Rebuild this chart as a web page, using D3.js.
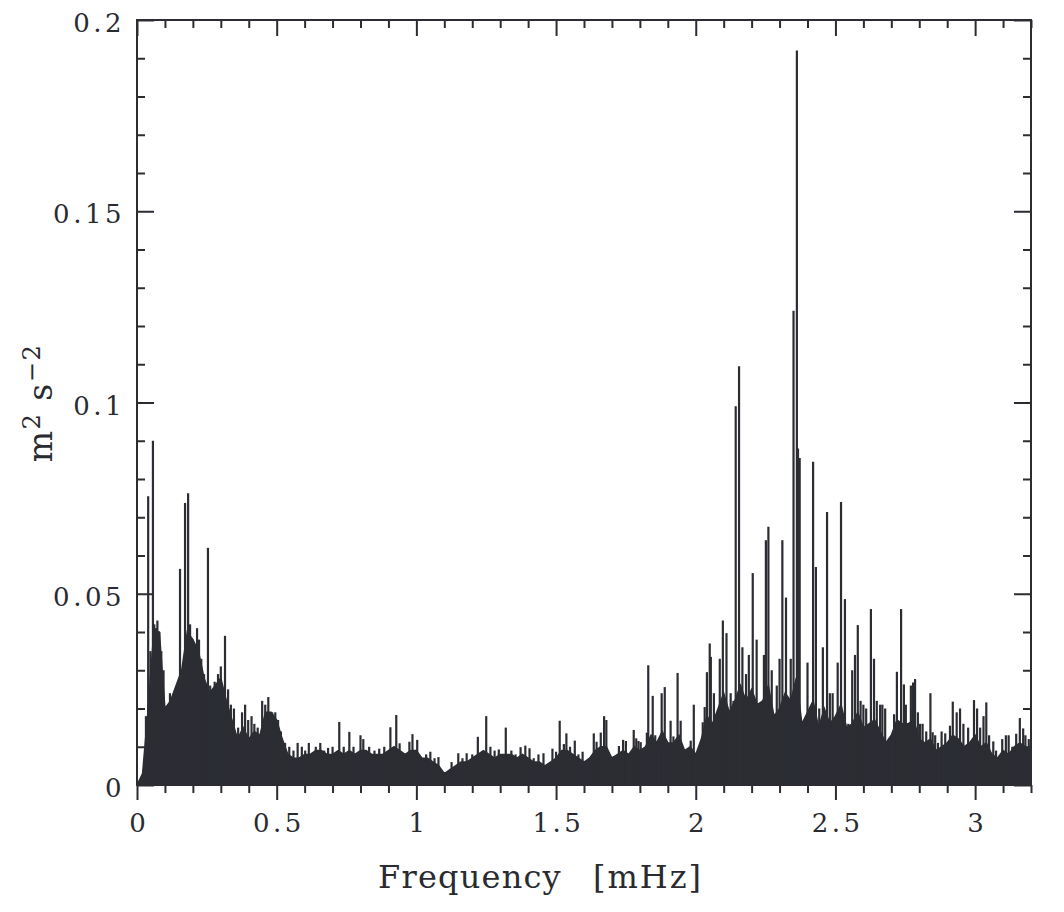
<!DOCTYPE html>
<html>
<head>
<meta charset="utf-8">
<script src="https://cdn.jsdelivr.net/npm/d3@7"></script>
<style>
  html, body { margin: 0; padding: 0; background: #fff; }
  svg { display: block; }
  text { font-family: "DejaVu Serif", serif; fill: #2a2b30; }
</style>
</head>
<body>
<svg id="chart" width="1064" height="912"></svg>
<script>
// ---- data ----
// upper edge of the dense, solid part of the spectrum, sampled every 0.02 mHz from 0 to 3.2 mHz
const bandStep = 0.02;
const bandTop = [
  0, 0.003, 0.020, 0.040, 0.040, 0.020, 0.022, 0.026, 0.030, 0.040,
  0.038, 0.035, 0.028, 0.024, 0.026, 0.028, 0.022, 0.017, 0.012, 0.015,
  0.012, 0.014, 0.013, 0.019, 0.019, 0.017, 0.012, 0.008, 0.007, 0.007,
  0.008, 0.008, 0.009, 0.009, 0.008, 0.008, 0.009, 0.008, 0.009, 0.008,
  0.009, 0.009, 0.008, 0.008, 0.008, 0.009, 0.010, 0.009, 0.008, 0.009,
  0.009, 0.007, 0.007, 0.006, 0.005, 0.003, 0.004, 0.005, 0.006, 0.006,
  0.007, 0.008, 0.009, 0.008, 0.007, 0.008, 0.008, 0.008, 0.007, 0.008,
  0.007, 0.006, 0.006, 0.005, 0.006, 0.007, 0.009, 0.009, 0.008, 0.007,
  0.006, 0.007, 0.009, 0.010, 0.010, 0.007, 0.008, 0.009, 0.008, 0.010,
  0.009, 0.010, 0.013, 0.011, 0.014, 0.011, 0.011, 0.013, 0.009, 0.010,
  0.008, 0.012, 0.018, 0.016, 0.020, 0.024, 0.019, 0.022, 0.026, 0.022,
  0.025, 0.021, 0.022, 0.026, 0.018, 0.020, 0.024, 0.022, 0.028, 0.016,
  0.019, 0.022, 0.015, 0.020, 0.016, 0.018, 0.021, 0.015, 0.016, 0.019,
  0.015, 0.016, 0.017, 0.014, 0.011, 0.013, 0.017, 0.016, 0.016, 0.017,
  0.012, 0.011, 0.012, 0.009, 0.010, 0.011, 0.013, 0.012, 0.010, 0.011,
  0.013, 0.010, 0.011, 0.008, 0.007, 0.009, 0.008, 0.010, 0.011, 0.010,
  0.009
];
// individual spikes: frequency (mHz) and power (m^2 s^-2)
const spikeFreq = [
  0.032, 0.040, 0.048, 0.057, 0.062, 0.068, 0.073, 0.080, 0.087, 0.095,
  0.108, 0.118, 0.128, 0.136, 0.145, 0.154, 0.160, 0.172, 0.183, 0.190,
  0.200, 0.215, 0.222, 0.230, 0.240, 0.254, 0.262, 0.270, 0.278, 0.290,
  0.300, 0.315, 0.326, 0.336, 0.347, 0.362, 0.376, 0.387, 0.398, 0.410,
  0.420, 0.432, 0.448, 0.459, 0.470, 0.484, 0.495, 0.505, 0.515, 0.530,
  0.545, 0.560, 0.575, 0.590, 0.602, 0.615, 0.628, 0.640, 0.656, 0.670,
  0.684, 0.700, 0.712, 0.724, 0.740, 0.760, 0.775, 0.800, 0.810, 0.831,
  0.850, 0.867, 0.885, 0.907, 0.928, 0.940, 0.958, 0.975, 0.986, 1.003,
  1.020, 1.035, 1.050, 1.065, 1.079, 1.126, 1.150, 1.165, 1.180, 1.200,
  1.220, 1.250, 1.265, 1.280, 1.295, 1.320, 1.340, 1.355, 1.373, 1.390,
  1.405, 1.420, 1.437, 1.455, 1.487, 1.500, 1.513, 1.528, 1.537, 1.550,
  1.567, 1.580, 1.595, 1.620, 1.635, 1.645, 1.660, 1.672, 1.680, 1.706,
  1.725, 1.740, 1.750, 1.778, 1.787, 1.795, 1.803, 1.825, 1.830, 1.846,
  1.855, 1.865, 1.878, 1.889, 1.900, 1.910, 1.920, 1.935, 1.946, 1.965,
  1.982, 1.993, 2.025, 2.032, 2.040, 2.050, 2.054, 2.065, 2.086, 2.097,
  2.110, 2.125, 2.135, 2.143, 2.155, 2.167, 2.180, 2.190, 2.204, 2.218,
  2.230, 2.244, 2.251, 2.260, 2.272, 2.290, 2.300, 2.310, 2.323, 2.332,
  2.340, 2.350, 2.362, 2.366, 2.372, 2.385, 2.400, 2.420, 2.430, 2.442,
  2.455, 2.470, 2.480, 2.490, 2.508, 2.520, 2.534, 2.546, 2.560, 2.570,
  2.580, 2.590, 2.600, 2.610, 2.627, 2.638, 2.648, 2.660, 2.668, 2.678,
  2.690, 2.710, 2.720, 2.735, 2.745, 2.752, 2.770, 2.778, 2.785, 2.795,
  2.803, 2.812, 2.825, 2.840, 2.848, 2.857, 2.867, 2.880, 2.893, 2.910,
  2.920, 2.934, 2.946, 2.958, 2.975, 2.996, 3.007, 3.018, 3.030, 3.040,
  3.050, 3.065, 3.075, 3.097, 3.110, 3.120, 3.133, 3.147, 3.160, 3.172,
  3.180, 3.192
];
const spikePower = [
  0.018, 0.0755, 0.035, 0.090, 0.042, 0.041, 0.043, 0.040, 0.035, 0.030,
  0.020, 0.024, 0.021, 0.024, 0.026, 0.0565, 0.030, 0.0737, 0.0763, 0.042,
  0.038, 0.041, 0.038, 0.033, 0.029, 0.062, 0.026, 0.025, 0.027, 0.029,
  0.031, 0.039, 0.025, 0.021, 0.020, 0.015, 0.019, 0.021, 0.017, 0.018,
  0.016, 0.015, 0.022, 0.021, 0.023, 0.019, 0.019, 0.017, 0.014, 0.011,
  0.010, 0.009, 0.011, 0.010, 0.009, 0.011, 0.008, 0.010, 0.011, 0.009,
  0.0097, 0.010, 0.008, 0.0165, 0.010, 0.0139, 0.010, 0.013, 0.012, 0.010,
  0.009, 0.0095, 0.010, 0.0151, 0.0183, 0.0109, 0.008, 0.0113, 0.0133, 0.0118,
  0.007, 0.008, 0.0087, 0.007, 0.0073, 0.006, 0.0083, 0.007, 0.0083, 0.008,
  0.0126, 0.018, 0.010, 0.009, 0.0093, 0.015, 0.009, 0.008, 0.0099, 0.0103,
  0.0096, 0.007, 0.008, 0.0083, 0.0095, 0.0087, 0.0168, 0.0107, 0.0135, 0.010,
  0.0116, 0.008, 0.0087, 0.007, 0.0135, 0.0113, 0.0137, 0.018, 0.017, 0.0075,
  0.0102, 0.0118, 0.0115, 0.0144, 0.0122, 0.0115, 0.0112, 0.0137, 0.0313, 0.0233,
  0.013, 0.010, 0.024, 0.0256, 0.011, 0.0168, 0.0127, 0.0293, 0.0168, 0.009,
  0.0116, 0.021, 0.0164, 0.0204, 0.0295, 0.037, 0.0335, 0.024, 0.033, 0.043,
  0.0397, 0.024, 0.022, 0.099, 0.1095, 0.036, 0.029, 0.034, 0.0554, 0.038,
  0.020, 0.034, 0.064, 0.0675, 0.030, 0.026, 0.033, 0.064, 0.049, 0.017,
  0.033, 0.124, 0.192, 0.088, 0.0855, 0.016, 0.032, 0.0845, 0.057, 0.020,
  0.036, 0.0714, 0.024, 0.024, 0.032, 0.074, 0.0486, 0.016, 0.030, 0.034,
  0.0418, 0.022, 0.021, 0.020, 0.046, 0.033, 0.022, 0.021, 0.021, 0.020,
  0.011, 0.0185, 0.0296, 0.046, 0.0263, 0.021, 0.026, 0.0268, 0.0277, 0.019,
  0.016, 0.016, 0.014, 0.024, 0.0138, 0.013, 0.011, 0.014, 0.0135, 0.0155,
  0.0218, 0.019, 0.020, 0.016, 0.015, 0.0222, 0.020, 0.015, 0.018, 0.0216,
  0.013, 0.0114, 0.009, 0.012, 0.013, 0.013, 0.010, 0.0134, 0.0175, 0.0148,
  0.013, 0.012
];
const xMajorTicks = [0, 0.5, 1, 1.5, 2, 2.5, 3];
const xTickLabels = ["0", "0.5", "1", "1.5", "2", "2.5", "3"];
const yMajorTicks = [0, 0.05, 0.1, 0.15, 0.2];
const yTickLabels = ["0", "0.05", "0.1", "0.15", "0.2"];
const xMinorStep = 0.1;
const yMinorStep = 0.01;

// ---- drawing ----
const ink = "#2b2d33";
const svg = d3.select("#chart");
const L = 137, R = 1031, T = 20, B = 785;
const x = d3.scaleLinear().domain([0, 3.2]).range([L, R]);
const y = d3.scaleLinear().domain([0, 0.2]).range([B, T]);

const band = bandTop.map((v, i) => ({ f: +(i * bandStep).toFixed(3), p: v }));
const spikes = spikeFreq.map((f, i) => ({ f, p: spikePower[i] }));

const plot = svg.append("g");
plot.append("path")
  .datum(band)
  .attr("fill", ink)
  .attr("stroke", ink)
  .attr("stroke-width", 1.5)
  .attr("d", d3.area().x(d => x(d.f)).y0(y(0)).y1(d => y(d.p)));

plot.selectAll("line.spike")
  .data(spikes)
  .join("line")
  .attr("class", "spike")
  .attr("x1", d => x(d.f)).attr("x2", d => x(d.f))
  .attr("y1", y(0)).attr("y2", d => y(d.p))
  .attr("stroke", ink)
  .attr("stroke-width", 2.2);

// ticks
const xMinor = d3.range(0, 3.2 + 1e-9, xMinorStep).map(v => +v.toFixed(2)).filter(v => !xMajorTicks.includes(v));
const yMinor = d3.range(0, 0.2 + 1e-9, yMinorStep).map(v => +v.toFixed(3)).filter(v => !yMajorTicks.includes(v));

function styleAxis(g) {
  g.select(".domain").remove();
  g.selectAll(".tick line").attr("stroke", ink).attr("stroke-width", 2);
  g.selectAll(".tick text").attr("fill", "#2a2b30")
    .style("font-family", "'DejaVu Serif', serif").style("font-size", "26px")
    .style("letter-spacing", "3.5px");
}

// bottom (ticks hang outward, labels)
svg.append("g").attr("transform", `translate(0,${B})`)
  .call(d3.axisBottom(x).tickValues(xMajorTicks).tickSize(15).tickPadding(14)
    .tickFormat((d, i) => xTickLabels[i]))
  .call(styleAxis)
  .call(g => g.selectAll(".tick text").attr("dx", "1.75px"));
svg.append("g").attr("transform", `translate(0,${B})`)
  .call(d3.axisBottom(x).tickValues(xMinor).tickSize(8).tickFormat(""))
  .call(styleAxis);
// top (inward)
svg.append("g").attr("transform", `translate(0,${T})`)
  .call(d3.axisTop(x).tickValues(xMajorTicks).tickSize(-16).tickFormat(""))
  .call(styleAxis);
svg.append("g").attr("transform", `translate(0,${T})`)
  .call(d3.axisTop(x).tickValues(xMinor).tickSize(-8).tickFormat(""))
  .call(styleAxis);
// left (inward, labels)
svg.append("g").attr("transform", `translate(${L},0)`)
  .call(d3.axisLeft(y).tickValues(yMajorTicks).tickSize(-17).tickPadding(12)
    .tickFormat((d, i) => yTickLabels[i]))
  .call(styleAxis)
  .call(g => g.selectAll(".tick text").attr("dy", "0.45em"));
svg.append("g").attr("transform", `translate(${L},0)`)
  .call(d3.axisLeft(y).tickValues(yMinor).tickSize(-8).tickFormat(""))
  .call(styleAxis);
// right (inward)
svg.append("g").attr("transform", `translate(${R},0)`)
  .call(d3.axisRight(y).tickValues(yMajorTicks).tickSize(-17).tickFormat(""))
  .call(styleAxis);
svg.append("g").attr("transform", `translate(${R},0)`)
  .call(d3.axisRight(y).tickValues(yMinor).tickSize(-8).tickFormat(""))
  .call(styleAxis);

// frame
svg.append("rect")
  .attr("x", L).attr("y", T).attr("width", R - L).attr("height", B - T)
  .attr("fill", "none").attr("stroke", ink).attr("stroke-width", 2);

// axis titles
svg.append("text").attr("x", 378).attr("y", 888)
  .style("font-size", "32px").style("letter-spacing", "1.2px").text("Frequency");
svg.append("text").attr("x", 593).attr("y", 888)
  .style("font-size", "32px").style("letter-spacing", "2px").text("[mHz]");

const yl = svg.append("text")
  .attr("transform", "translate(52,403) rotate(-90)")
  .attr("text-anchor", "middle")
  .style("font-size", "33px").style("letter-spacing", "1.5px");
yl.append("tspan").text("m");
yl.append("tspan").attr("dy", -12).style("font-size", "24px").text("2");
yl.append("tspan").attr("dy", 12).text(" s");
yl.append("tspan").attr("dy", -12).style("font-size", "24px").text("−2");
</script>
</body>
</html>
